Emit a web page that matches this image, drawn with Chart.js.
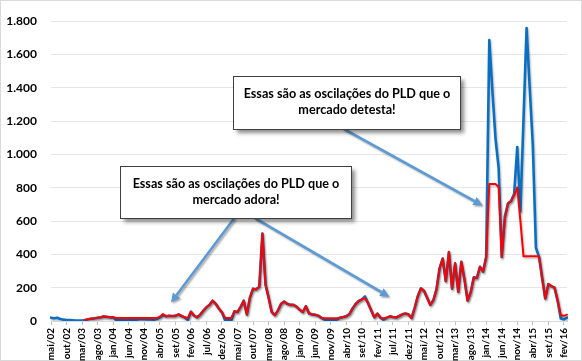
<!DOCTYPE html>
<html lang="pt-BR">
<head>
<meta charset="utf-8">
<title>PLD</title>
<script src="https://cdn.jsdelivr.net/npm/chart.js@4.4.1/dist/chart.umd.min.js"></script>
<style>
    html, body { margin: 0; padding: 0; background: #fff; }
    #quadro { width: 582px; height: 361px; }
</style>
</head>
<body>
<div id="quadro"><canvas id="graficoPLD" width="582" height="361"></canvas></div>
<script>
// Série mensal a partir de mai/02
const anoInicial = 2002;
const mesInicial = 4; // mai
const nomesMeses = ['jan', 'fev', 'mar', 'abr', 'mai', 'jun', 'jul', 'ago', 'set', 'out', 'nov', 'dez'];

// Linha azul (sem piso/teto), R$/MWh
const serieAzul = [
    20, 16, 19, 12, 8, 6, 5, 4,                                   // 2002
    3, 3, 3, 5, 10, 14, 16, 19, 22, 27, 25, 22,                   // 2003
    22, 5, 4, 4, 4, 4, 4, 6, 9, 12, 11, 10,                       // 2004
    9, 7, 12, 22, 34, 28, 31, 30, 31, 40, 30, 22,                 // 2005
    6, 56, 33, 22, 38, 62, 82, 97, 122, 103, 75, 52,              // 2006
    5, 4, 4, 58, 54, 85, 122, 39, 142, 194, 190, 206,             // 2007
    525, 220, 140, 54, 35, 64, 103, 117, 103, 97, 97, 86,         // 2008
    68, 54, 89, 45, 40, 38, 32, 19, 8, 4, 4, 4,                   // 2009
    8, 20, 24, 29, 42, 75, 102, 120, 130, 148, 107, 64,           // 2010
    22, 45, 20, 8, 20, 28, 24, 21, 30, 40, 45, 40,                // 2011
    18, 80, 150, 196, 181, 140, 97, 125, 190, 317, 375, 239,      // 2012
    414, 195, 346, 175, 356, 250, 122, 171, 262, 258, 326, 297,   // 2013
    385, 1687, 1380, 1095, 920, 385, 629, 705, 720, 764, 1045, 657, // 2014
    1210, 1759, 1400, 1055, 440, 385, 258, 135, 222, 210, 200, 120, // 2015
    15, 10, 20                                                    // 2016
];

// Linha vermelha (com piso/teto), R$/MWh
const serieVermelha = [
    null, null, null, null, null, null, null, null,               // 2002
    null, null, null, 8, 12, 15, 17, 20, 23, 28, 25, 23,          // 2003
    22, 18, 18, 18, 18, 18, 18, 18, 18, 18, 18, 18,               // 2004
    18, 18, 18, 25, 42, 29, 31, 30, 31, 40, 30, 22,               // 2005
    18, 56, 33, 22, 38, 62, 82, 97, 122, 103, 75, 52,             // 2006
    18, 18, 18, 58, 54, 85, 122, 39, 142, 194, 190, 206,          // 2007
    525, 220, 140, 54, 35, 64, 103, 117, 103, 97, 97, 86,         // 2008
    68, 54, 89, 45, 40, 38, 32, 19, 16, 16, 16, 16,               // 2009
    16, 20, 24, 29, 42, 75, 102, 120, 130, 138, 107, 64,          // 2010
    22, 45, 20, 17, 20, 28, 24, 21, 30, 40, 45, 40,               // 2011
    18, 80, 150, 196, 181, 140, 97, 125, 190, 317, 375, 239,      // 2012
    414, 195, 346, 175, 356, 250, 122, 171, 262, 258, 326, 297,   // 2013
    385, 822.83, 822.83, 822.83, 805, 385, 610, 705, 720, 753, 802, 601, // 2014
    388.48, 388.48, 388.48, 388.48, 388.48, 388.48, 258, 135, 222, 210, 200, 120, // 2015
    35, 31, 38                                                    // 2016
];

// Eixo Y
const limiteY = 1800;
const passoY = 200;

// Caixas de texto e setas (em unidades do gráfico: índice do mês, R$/MWh)
const caixas = [
    { linhas: ['Essas são as oscilações do PLD que o', 'mercado adora!'], x0: 22.3, y0: 933, x1: 96.4, y1: 618 },
    { linhas: ['Essas são as oscilações do PLD que o', 'mercado detesta!'], x0: 58.7, y0: 1469, x1: 131.5, y1: 1155 }
];
const setas = [
    { x0: 59.0, y0: 618, x1: 38.6, y1: 111 },
    { x0: 65.6, y0: 618, x1: 108.8, y1: 146 },
    { x0: 94.0, y0: 1155, x1: 138.8, y1: 694 }
];

const fonte = 'Lato, "Open Sans", sans-serif';

// Rótulos mai/02, jun/02, ...
const meses = serieAzul.map((_, i) => {
    const m = mesInicial + i;
    const ano = anoInicial + Math.floor(m / 12);
    return nomesMeses[m % 12] + '/' + String(ano).slice(2);
});

function formatarMilhar(v) {
    return String(v).replace(/\B(?=(\d{3})+(?!\d))/g, '.');
}

const moldura = {
    id: 'moldura',
    beforeDraw(chart) {
        const c = chart.ctx;
        c.save();
        c.fillStyle = '#ffffff';
        c.fillRect(0, 0, chart.width, chart.height);
        c.strokeStyle = '#d9d9d9';
        c.lineWidth = 1;
        c.strokeRect(0.5, 0.5, chart.width - 1, chart.height - 1);
        c.restore();
    }
};

const sombraLinhas = {
    id: 'sombraLinhas',
    beforeDatasetsDraw(chart) {
        const c = chart.ctx;
        c.save();
        c.shadowColor = 'rgba(0,0,0,0.28)';
        c.shadowBlur = 2;
        c.shadowOffsetX = 1;
        c.shadowOffsetY = 1.5;
    },
    afterDatasetsDraw(chart) {
        chart.ctx.restore();
    }
};

const anotacoes = {
    id: 'anotacoes',
    afterDraw(chart) {
        const c = chart.ctx;
        const sx = chart.scales.x;
        const sy = chart.scales.y;
        const px = v => sx.getPixelForValue(v);
        const py = v => sy.getPixelForValue(v);

        // setas
        setas.forEach(s => {
            const ax = px(s.x0), ay = py(s.y0), bx = px(s.x1), by = py(s.y1);
            const ang = Math.atan2(by - ay, bx - ax);
            const cab = 9, larg = 4.5;
            const fx = bx - Math.cos(ang) * cab, fy = by - Math.sin(ang) * cab;
            c.save();
            c.shadowColor = 'rgba(0,0,0,0.35)';
            c.shadowBlur = 2;
            c.shadowOffsetX = 1.5;
            c.shadowOffsetY = 1.5;
            c.strokeStyle = '#5b9bd5';
            c.fillStyle = '#5b9bd5';
            c.lineWidth = 2.5;
            c.beginPath();
            c.moveTo(ax, ay);
            c.lineTo(fx, fy);
            c.stroke();
            c.beginPath();
            c.moveTo(bx, by);
            c.lineTo(fx + Math.sin(ang) * larg, fy - Math.cos(ang) * larg);
            c.lineTo(fx - Math.sin(ang) * larg, fy + Math.cos(ang) * larg);
            c.closePath();
            c.fill();
            c.restore();
        });

        // caixas
        caixas.forEach(k => {
            const x0 = Math.round(px(k.x0)) + 0.5, y0 = Math.round(py(k.y0)) + 0.5;
            const x1 = Math.round(px(k.x1)) + 0.5, y1 = Math.round(py(k.y1)) + 0.5;
            c.save();
            c.shadowColor = 'rgba(0,0,0,0.45)';
            c.shadowBlur = 4;
            c.shadowOffsetX = 3;
            c.shadowOffsetY = 3;
            c.fillStyle = '#ffffff';
            c.fillRect(x0, y0, x1 - x0, y1 - y0);
            c.restore();
            c.save();
            c.strokeStyle = '#404040';
            c.lineWidth = 1;
            c.strokeRect(x0, y0, x1 - x0, y1 - y0);

            // tamanho da fonte para a primeira linha ocupar ~207px
            c.font = 'bold 13px ' + fonte;
            const w = c.measureText(k.linhas[0]).width;
            const tam = 13 * 207 / w;
            c.font = 'bold ' + tam.toFixed(2) + 'px ' + fonte;
            c.fillStyle = '#000000';
            c.textAlign = 'center';
            c.textBaseline = 'middle';
            const cx = (x0 + x1) / 2;
            const cy = (y0 + y1) / 2 - 1;
            c.fillText(k.linhas[0], cx, cy - 8);
            c.fillText(k.linhas[1], cx, cy + 8);
            c.restore();
        });
    }
};

const ctx = document.getElementById('graficoPLD').getContext('2d');
const graficoPLD = new Chart(ctx, {
    type: 'line',
    data: {
        labels: meses,
        datasets: [
            {
                label: 'Azul',
                data: serieAzul,
                borderColor: '#0a6fc2',
                borderWidth: 2.6,
                order: 2
            },
            {
                label: 'Vermelha',
                data: serieVermelha,
                borderColor: '#ff0000',
                borderWidth: 2,
                order: 1
            }
        ]
    },
    options: {
        responsive: false,
        animation: false,
        devicePixelRatio: 1,
        layout: { padding: { left: 6, right: 11, top: 12, bottom: 0 } },
        elements: {
            point: { radius: 0, hoverRadius: 0 },
            line: { tension: 0, borderJoinStyle: 'round', borderCapStyle: 'round' }
        },
        plugins: {
            legend: { display: false },
            tooltip: { enabled: false }
        },
        scales: {
            x: {
                offset: false,
                grid: {
                    drawOnChartArea: false,
                    drawTicks: true,
                    tickLength: 4,
                    color: c => (c.index % 5 === 0 ? '#bfbfbf' : 'rgba(0,0,0,0)')
                },
                border: { display: true, color: '#d9d9d9' },
                ticks: {
                    autoSkip: false,
                    minRotation: 90,
                    maxRotation: 90,
                    padding: 3,
                    color: '#000000',
                    font: { family: fonte, size: 10, weight: 'bold' },
                    callback: function (v, i) {
                        return i % 5 === 0 ? this.getLabelForValue(v) : '';
                    }
                },
                afterFit: s => { s.height = 40; }
            },
            y: {
                min: 0,
                max: limiteY,
                grid: { color: '#e6e6e6', drawTicks: false },
                border: { display: false },
                ticks: {
                    stepSize: passoY,
                    padding: 14,
                    color: '#000000',
                    font: { family: fonte, size: 12, weight: 'bold' },
                    callback: v => formatarMilhar(v)
                },
                afterFit: s => { s.width = 45; }
            }
        }
    },
    plugins: [moldura, sombraLinhas, anotacoes]
});
</script>
</body>
</html>
